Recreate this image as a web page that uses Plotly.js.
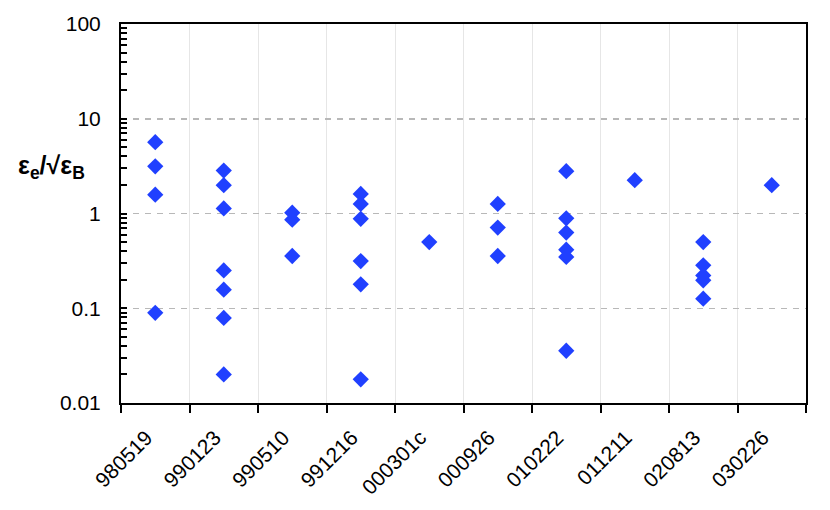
<!DOCTYPE html>
<html>
<head>
<meta charset="utf-8">
<script src="https://cdn.plot.ly/plotly-3.0.1.min.js"></script>
<style>
  html, body { margin: 0; padding: 0; background: #fff; }
  #chart { width: 830px; height: 510px; }
</style>
</head>
<body>
<div id="chart"></div>
<script>
// bursts (category order on the x axis)
var bursts = ['980519', '990123', '990510', '991216', '000301c',
              '000926', '010222', '011211', '020813', '030226'];

// eps_e / sqrt(eps_B) values per burst
var v980519 = [5.65, 3.15, 1.58, 0.0895];
var v990123 = [2.84, 1.99, 1.13, 0.251, 0.157, 0.079, 0.02];
var v990510 = [1.02, 0.86, 0.356];
var v991216 = [1.61, 1.26, 0.88, 0.315, 0.179, 0.0178];
var v000301c = [0.50];
var v000926 = [1.26, 0.71, 0.356];
var v010222 = [2.8, 0.89, 0.63, 0.415, 0.348, 0.0356];
var v011211 = [2.25];
var v020813 = [0.50, 0.284, 0.222, 0.197, 0.126];
var v030226 = [1.99];

var values = [v980519, v990123, v990510, v991216, v000301c,
              v000926, v010222, v011211, v020813, v030226];

var xs = [], ys = [];
for (var i = 0; i < bursts.length; i++) {
	for (var j = 0; j < values[i].length; j++) {
		xs.push(bursts[i]);
		ys.push(values[i][j]);
	}
}

var pts = {
	x: xs,
	y: ys,
	type: 'scatter',
	mode: 'markers',
	marker: {
		symbol: 'diamond',
		size: 12.5,
		color: '#2040ff',
		line: {width: 0}
	},
	hoverinfo: 'x+y'
};

var fam = 'Liberation Sans, Arial, sans-serif';

var layout = {
	width: 830,
	height: 510,
	margin: {l: 121, r: 24, t: 24, b: 107, pad: 0},
	paper_bgcolor: '#ffffff',
	plot_bgcolor: '#ffffff',
	showlegend: false,
	font: {family: fam, size: 20, color: '#000000'},
	xaxis: {
		type: 'category',
		categoryorder: 'array',
		categoryarray: bursts,
		range: [-0.5, 9.5],
		tickson: 'boundaries',
		ticks: 'outside',
		ticklen: 8,
		tickwidth: 2,
		tickcolor: '#000',
		tickangle: -45,
		ticklabelshift: -9,
		ticklabelstandoff: 12,
		showgrid: true,
		gridcolor: '#e6e6e6',
		gridwidth: 1,
		showline: true,
		linecolor: '#000',
		linewidth: 2,
		mirror: true,
		zeroline: false,
		tickfont: {family: fam, size: 21}
	},
	yaxis: {
		type: 'log',
		range: [-2, 2],
		tickvals: [0.01, 0.1, 1, 10, 100],
		ticktext: ['0.01', '0.1', '1', '10', '100'],
		ticks: 'inside',
		ticklen: 6,
		tickwidth: 2,
		tickcolor: '#000',
		ticklabelstandoff: 14,
		minor: {
			ticks: 'inside',
			ticklen: 6,
			tickwidth: 2,
			tickcolor: '#000',
			dtick: 'D1',
			showgrid: false
		},
		showgrid: true,
		gridcolor: '#b8b8b8',
		gridwidth: 1.5,
		griddash: '6px,6px',
		showline: true,
		linecolor: '#000',
		linewidth: 2,
		mirror: true,
		zeroline: false,
		tickfont: {family: fam, size: 21}
	},
	annotations: [{
		xref: 'paper', yref: 'paper',
		x: -0.05, y: 0.622,
		xanchor: 'right', yanchor: 'middle',
		showarrow: false,
		text: '<b>ε<sub>e</sub>/√ε<sub>B</sub></b>',
		font: {family: fam, size: 25, color: '#000'}
	}]
};

Plotly.newPlot('chart', [pts], layout, {displayModeBar: false, staticPlot: true});
</script>
</body>
</html>
